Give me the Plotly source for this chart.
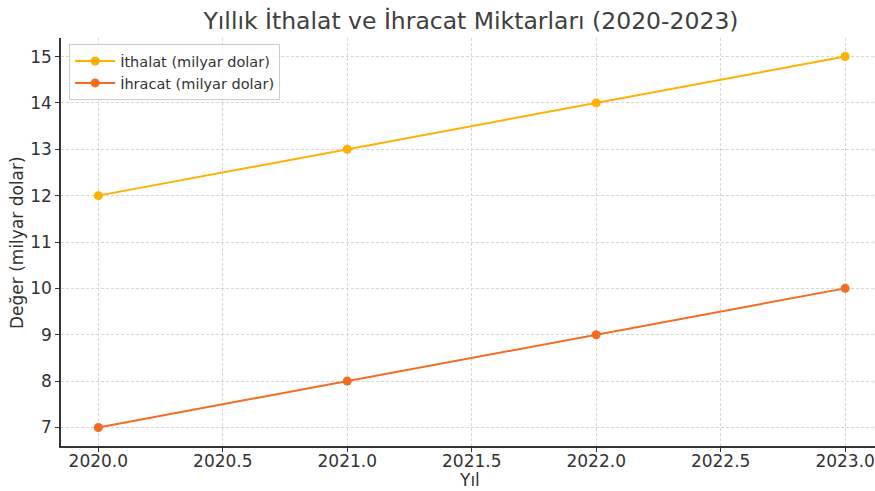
import plotly.graph_objects as go

years = [2020, 2021, 2022, 2023]
ithalat = [12, 13, 14, 15]
ihracat = [7, 8, 9, 10]
x_ticks = [2020.0, 2020.5, 2021.0, 2021.5, 2022.0, 2022.5, 2023.0]
x_tick_labels = ["2020.0", "2020.5", "2021.0", "2021.5", "2022.0", "2022.5", "2023.0"]
y_ticks = [7, 8, 9, 10, 11, 12, 13, 14, 15]

FONT = "DejaVu Sans"
fig = go.Figure()
fig.add_trace(go.Scatter(x=years, y=ithalat, mode="lines+markers", name="İthalat (milyar dolar)",
                         line=dict(color="#FFB000", width=2), marker=dict(size=9, color="#FFB000")))
fig.add_trace(go.Scatter(x=years, y=ihracat, mode="lines+markers", name="İhracat (milyar dolar)",
                         line=dict(color="#F36C21", width=2), marker=dict(size=9, color="#F36C21")))

axis_common = dict(showgrid=True, gridcolor="#d6d6d6", griddash="3px,2px", gridwidth=1,
                   showline=True, linecolor="#333333", linewidth=1.5,
                   ticks="outside", ticklen=4, tickcolor="#333333", automargin=False,
                   tickfont=dict(family=FONT, size=17, color="#333333"), zeroline=False)

fig.update_layout(
    width=875, height=491,
    margin=dict(l=61, r=0, t=38, b=45),
    paper_bgcolor="white", plot_bgcolor="white",
    title=dict(text="Yıllık İthalat ve İhracat Miktarları (2020-2023)", xref="container",
               yref="container", x=471 / 875, xanchor="center", y=1 - 21 / 491, yanchor="middle",
               font=dict(family=FONT, size=23.5, color="#404040")),
    font=dict(family=FONT, color="#333333"),
    xaxis=dict(range=[2019.85, 2023.12], tickvals=x_ticks, ticktext=x_tick_labels,
               ticklabelstandoff=-5, **axis_common),
    yaxis=dict(range=[6.6, 15.4], tickvals=y_ticks, **axis_common),
    legend=dict(x=0.01, y=0.985, xanchor="left", yanchor="top",
                bgcolor="rgba(255,255,255,0.8)", bordercolor="#cccccc", borderwidth=1,
                font=dict(family=FONT, size=14.5, color="#333333"), itemwidth=40),
    showlegend=True,
)

fig.add_annotation(text="Yıl", xref="paper", yref="paper", x=(470 - 61) / 814, y=-(480 - 446) / 408,
                   xanchor="center", yanchor="middle", showarrow=False,
                   font=dict(family=FONT, size=17, color="#333333"))
fig.add_annotation(text="Değer (milyar dolar)", xref="paper", yref="paper", x=-(61 - 17) / 814,
                   y=(446 - 243) / 408, xanchor="center", yanchor="middle", textangle=-90,
                   showarrow=False, font=dict(family=FONT, size=17, color="#333333"))
fig.write_html("out.html", config={"displayModeBar": False},
               post_script="document.body.style.margin='0';document.body.style.overflow='hidden';")
